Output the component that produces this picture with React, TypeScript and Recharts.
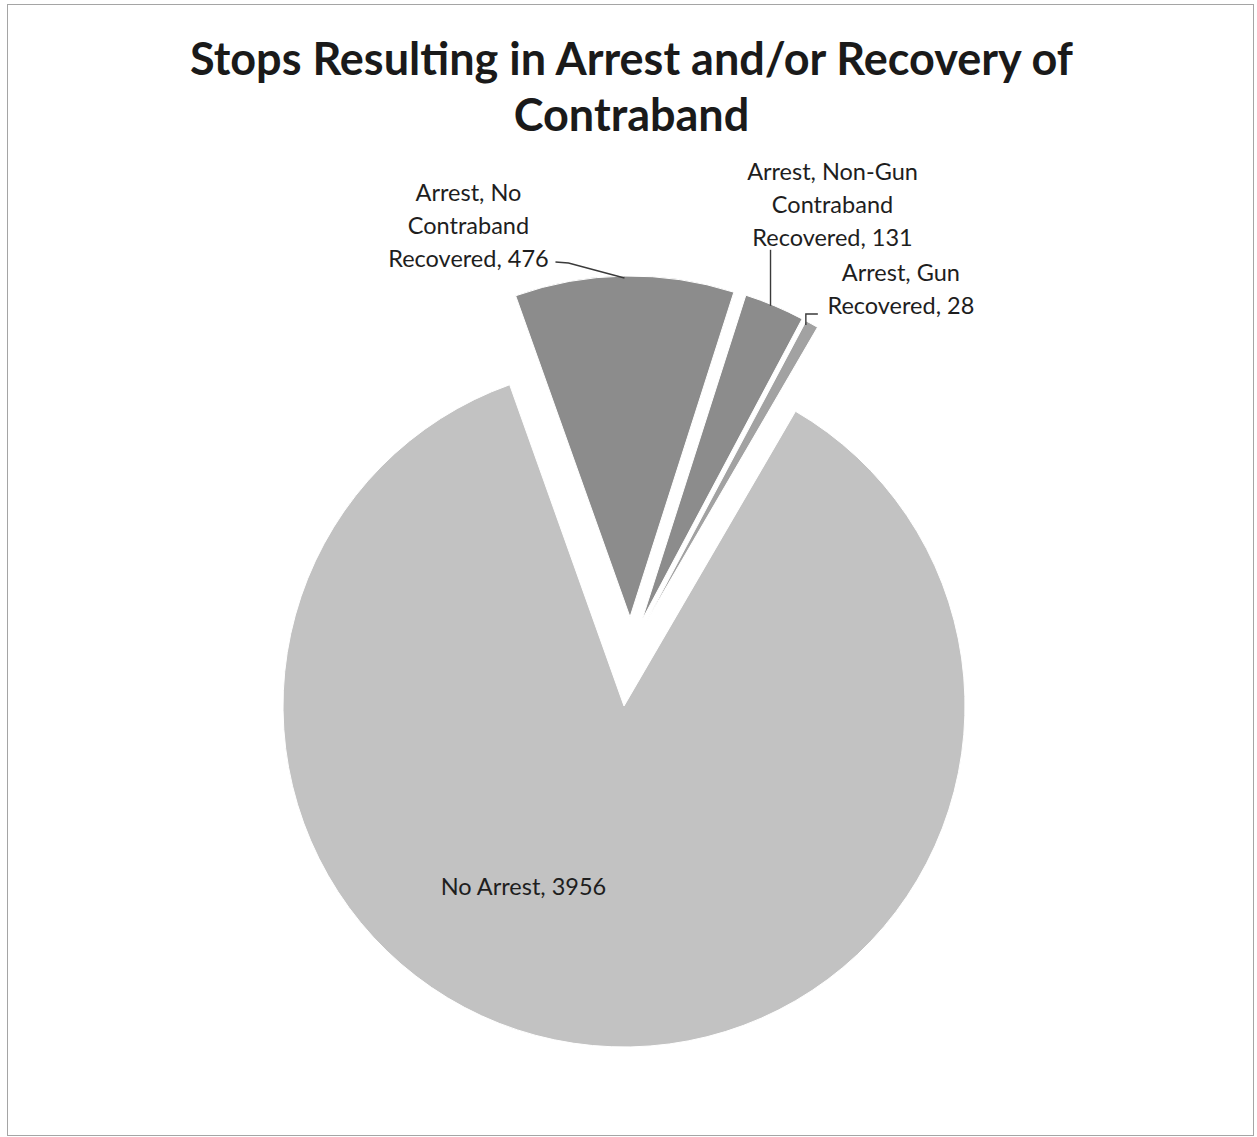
import { PieChart, Pie, Cell } from "recharts"

// data
const categoryLines = [
  ["No Arrest"],
  ["Arrest, No", "Contraband", "Recovered"],
  ["Arrest, Non-Gun", "Contraband", "Recovered"],
  ["Arrest, Gun", "Recovered"],
]
const stopCounts = [3956, 476, 131, 28]

const data = categoryLines.map((lines, i) => ({
  name: lines.join(" "),
  value: stopCounts[i],
}))

// layout / styling
const WIDTH = 1257
const HEIGHT = 1137
const CX = 624
const CY = 706
const RADIUS = 341
const START_ANGLE = 59.8
const colors = ["#c2c2c2", "#8c8c8c", "#8c8c8c", "#a2a2a2"]
// excel style "explode" offsets per slice
const explode = [
  [0, 0],
  [6, -89],
  [18, -86],
  [22, -84],
]
// label block centre (x of text, y of last line) relative to the point on the arc
const labelPos = [
  [-69, -160],
  [-156, -18],
  [58, -69],
  [89, -19],
]
// leader lines, relative to the arc point
const leaders: number[][][] = [
  [],
  [[0, 2], [-56, -13], [-69, -14]],
  [[-4, 0], [-4, -56]],
  [[-6, 1], [-6, -10], [6, -10]],
]
const LINE_H = 33
const RAD = Math.PI / 180

function renderLabel(props: any, target: number) {
  const { cx, cy, midAngle, outerRadius, index, value } = props
  if (index !== target) return null
  const ax = cx + outerRadius * Math.cos(-midAngle * RAD)
  const ay = cy + outerRadius * Math.sin(-midAngle * RAD)
  const lines = [...categoryLines[index]]
  lines[lines.length - 1] = `${lines[lines.length - 1]}, ${value}`
  const tx = ax + labelPos[index][0]
  const lastY = ay + labelPos[index][1]
  const pts = leaders[index]
  return (
    <g key={`lbl-${index}`}>
      {pts.length > 0 && (
        <polyline
          points={pts.map((p) => `${ax + p[0]},${ay + p[1]}`).join(" ")}
          fill="none"
          stroke="#3a3a3a"
          strokeWidth={1.4}
        />
      )}
      {lines.map((ln, j) => (
        <text
          key={j}
          x={tx}
          y={lastY - (lines.length - 1 - j) * LINE_H}
          textAnchor="middle"
          dominantBaseline="central"
          fontFamily="Lato, sans-serif"
          fontSize={23.5}
          fill="#1e1e1e"
        >
          {ln}
        </text>
      ))}
    </g>
  )
}

export default function App() {
  return (
    <div
      style={{
        position: "absolute",
        left: 0,
        top: 0,
        width: WIDTH,
        height: HEIGHT,
        background: "#fff",
      }}
    >
      <div
        style={{
          position: "absolute",
          left: 7,
          top: 4,
          width: 1245,
          height: 1130,
          border: "1px solid #a5a5a5",
        }}
      />
      <div
        style={{
          position: "absolute",
          left: 0,
          top: 30,
          width: 1263,
          textAlign: "center",
          fontFamily: "Lato, sans-serif",
          fontWeight: 700,
          fontSize: 45,
          lineHeight: "56px",
          color: "#1a1a1a",
        }}
      >
        Stops Resulting in Arrest and/or Recovery of
        <br />
        Contraband
      </div>
      <div style={{ position: "absolute", left: 0, top: 0 }}>
        <PieChart
          width={WIDTH}
          height={HEIGHT}
          margin={{ top: 0, right: 0, bottom: 0, left: 0 }}
        >
          {data.map((_, target) => (
            <Pie
              key={target}
              data={data}
              dataKey="value"
              nameKey="name"
              cx={CX + explode[target][0]}
              cy={CY + explode[target][1]}
              outerRadius={RADIUS}
              startAngle={START_ANGLE}
              endAngle={START_ANGLE - 360}
              isAnimationActive={false}
              labelLine={false}
              label={(p: any) => renderLabel(p, target)}
            >
              {data.map((d, i) => (
                <Cell
                  key={d.name}
                  fill={i === target ? colors[i] : "none"}
                  stroke={i === target ? "#ffffff" : "none"}
                  strokeWidth={1}
                />
              ))}
            </Pie>
          ))}
        </PieChart>
      </div>
    </div>
  )
}
